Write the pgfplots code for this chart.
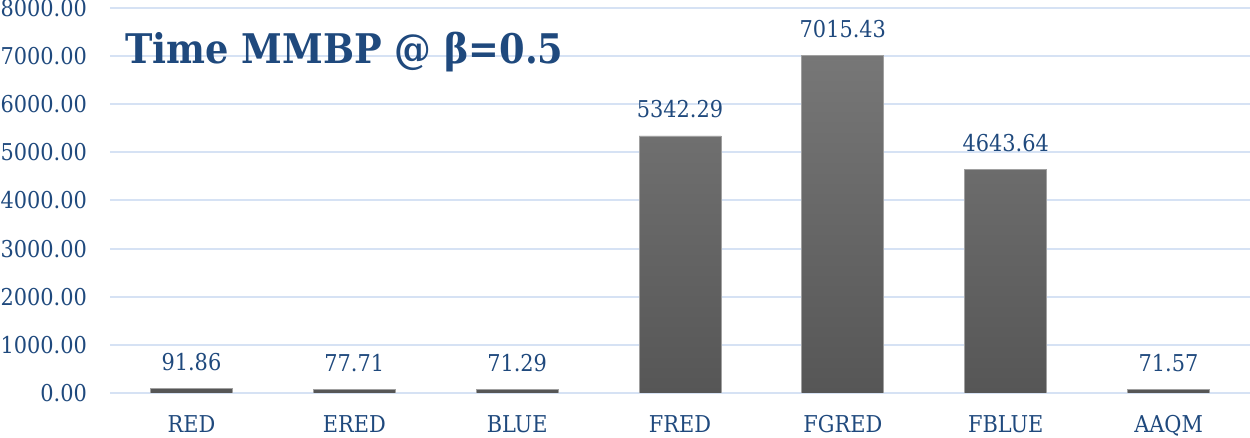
\documentclass[border=0pt]{standalone}
\usepackage{pgfplots}
\pgfplotsset{compat=1.18}
\usepackage{fontspec}
\setmainfont{DejaVu Serif Condensed}
\definecolor{txt}{HTML}{1F497D}
\definecolor{gridc}{HTML}{D6E2F4}
\definecolor{bartop}{HTML}{777777}
\definecolor{barbot}{HTML}{565656}
\definecolor{baredge}{HTML}{A0A0A0}
\begin{document}
\begin{tikzpicture}
\useasboundingbox (0,0) rectangle (625pt,219pt);
\begin{axis}[
  at={(55pt,22.5pt)}, anchor=south west,
  scale only axis, width=570pt, height=192.5pt,
  xmin=-0.5, xmax=6.5, ymin=0, ymax=8000,
  ybar, bar width=41pt,
  axis line style={draw=none},
  major tick length=0pt,
  tick style={draw=none},
  ytick={0,1000,...,8000},
  ymajorgrids, grid style={draw=gridc, line width=1pt},
  xtick={0,...,6},
  xticklabels={RED,ERED,BLUE,FRED,FGRED,FBLUE,AAQM},
  /pgf/number format/assume math mode=true,
  yticklabel style={text=txt, font=\fontsize{11.6}{11.6}\selectfont, anchor=east, xshift=-8pt,
    /pgf/number format/.cd, fixed, fixed zerofill, precision=2, 1000 sep={}, assume math mode=true},
  xticklabel style={text=txt, font=\fontsize{11.6}{11.6}\selectfont, yshift=-7.7pt},
  nodes near coords={\pgfmathprintnumber[fixed,fixed zerofill,precision=2,1000 sep={},assume math mode=true]{\pgfplotspointmeta}},
  nodes near coords style={text=txt, font=\fontsize{11.6}{11.6}\selectfont, anchor=base, yshift=9pt},
]
\addplot[draw=baredge, line width=0.4pt, top color=bartop, bottom color=barbot]
  coordinates {(0,91.86) (1,77.71) (2,71.29) (3,5342.29) (4,7015.43) (5,4643.64) (6,71.57)};
\node[anchor=base west, inner sep=0pt, text=txt]
  at (rel axis cs:0.0132,0.857) {\resizebox{219pt}{!}{\fontsize{20}{20}\bfseries\selectfont Time MMBP @ β=0.5}};
\end{axis}
\end{tikzpicture}
\end{document}
